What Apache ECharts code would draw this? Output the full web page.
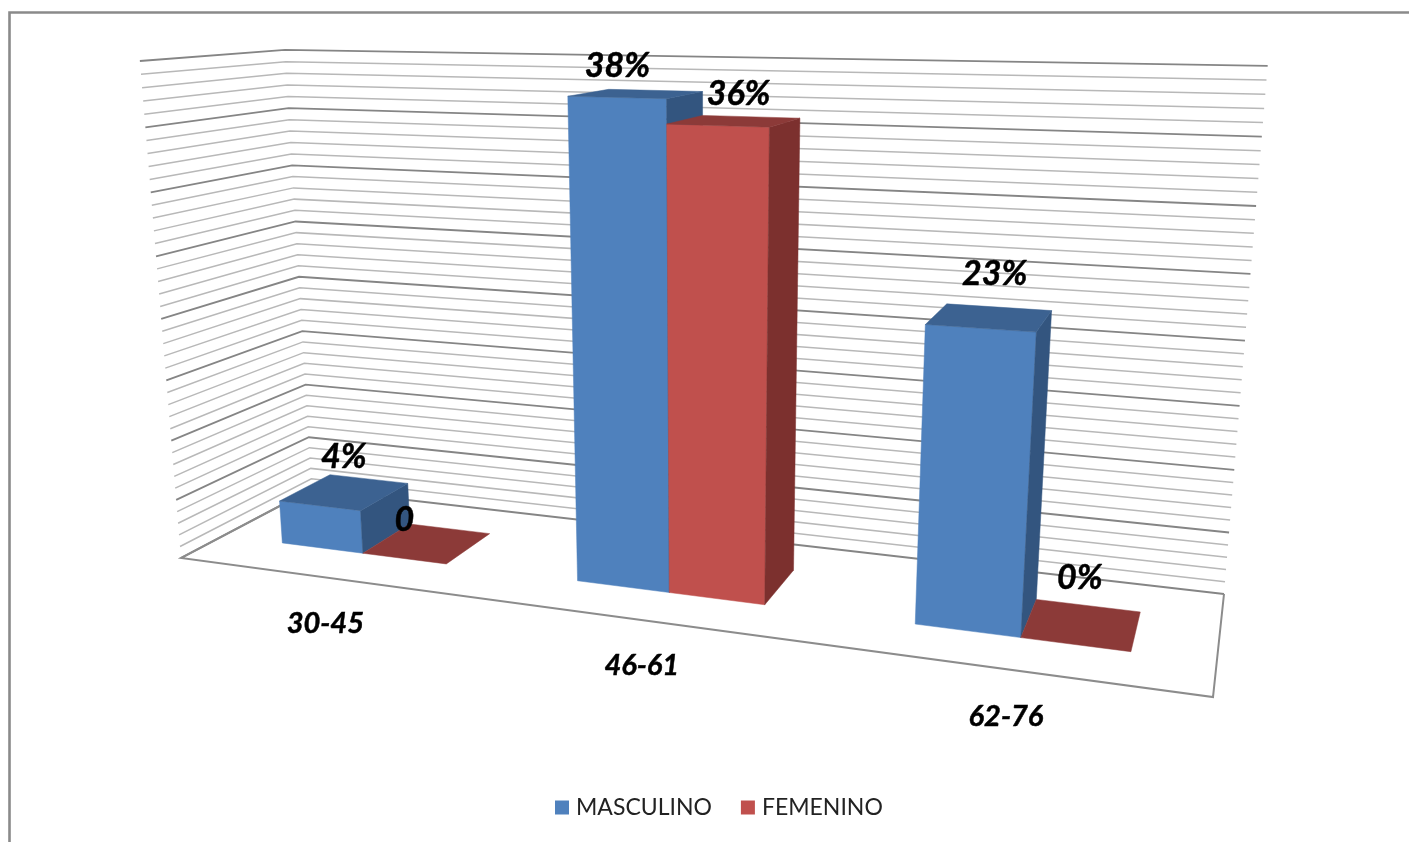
<!DOCTYPE html>
<html><head><meta charset="utf-8">
<style>html,body{margin:0;padding:0;background:#fff}#c{width:1409px;height:842px}</style>
<script src="https://cdn.jsdelivr.net/npm/echarts@6/dist/echarts.min.js"></script>
</head><body><div id="c"></div>
<script>
// ---- data ----
const categories = ['30-45', '46-61', '62-76'];
const masculino = [3.7, 37.7, 22.5];
const femenino = [0, 35.9, 0];
const masculinoLabels = ['4%', '38%', '23%'];
const femeninoLabels = ['0', '36%', '0%'];
const axisTicks = Array.from({length: 41}, (_, i) => i);
const axisMax = 40;

// ---- 3D look: picture of the unit cube (u along categories, v depth, h value) ----
const FLOOR = [[181,558],[1213,697],[1224,594],[312,489]];
const TOPS = [[0,0,136,61],[0,1,289,49],[1,1,1267,67]];
const BAR_SHARE = 1/3.5, BAR_DEPTH = [0.3, 0.7];
const maleLabelShift = [[-1,-35],[-19,-28],[5,-43]];
const femaleLabelShift = [[-23,-23],[4,-27],[-2,-46]];
const catLabelShift = [[1,46],[0,46],[-2,47]];

function buildProjection() {
  const [[x0,y0],[x1,y1],[x2,y2],[x3,y3]] = FLOOR;
  const dx1=x1-x2,dx2=x3-x2,dy1=y1-y2,dy2=y3-y2,sx=x0-x1+x2-x3,sy=y0-y1+y2-y3;
  const det=dx1*dy2-dx2*dy1;
  const g=(sx*dy2-dx2*sy)/det, h=(dx1*sy-sx*dy1)/det;
  const a=x1-x0+g*x1,b=x3-x0+h*x3,d=y1-y0+g*y1,e=y3-y0+h*y3;
  const rows=[],rhs=[];
  TOPS.forEach(([u,v,X,Y])=>{
    const fx=a*u+b*v+x0,fy=d*u+e*v+y0,fz=g*u+h*v+1;
    rows.push([1,0,-X]);rhs.push(X*fz-fx);
    rows.push([0,1,-Y]);rhs.push(Y*fz-fy);
  });
  const N=[[0,0,0,0],[0,0,0,0],[0,0,0,0]];
  rows.forEach((r,k)=>{for(let i=0;i<3;i++){for(let j=0;j<3;j++)N[i][j]+=r[i]*r[j];N[i][3]+=r[i]*rhs[k];}});
  for(let i=0;i<3;i++){
    let p=i;for(let r=i+1;r<3;r++)if(Math.abs(N[r][i])>Math.abs(N[p][i]))p=r;
    [N[i],N[p]]=[N[p],N[i]];
    for(let r=0;r<3;r++){if(r===i)continue;const f=N[r][i]/N[i][i];for(let c=i;c<4;c++)N[r][c]-=f*N[i][c];}
  }
  const c1=N[0][3]/N[0][0],c2=N[1][3]/N[1][1],c3=N[2][3]/N[2][2];
  return (u,v,w)=>{
    const z=g*u+h*v+c3*w+1;
    return [(a*u+b*v+c1*w+x0)/z,(d*u+e*v+c2*w+y0)/z];
  };
}
const project = buildProjection();

const FONT = 'Lato, "Open Sans", sans-serif';
const LABEL_SIZE = 34, CAT_SIZE = 29;
const poly = (pts, fill) => ({type:'polygon', shape:{points:pts}, style:{fill, stroke:fill, lineWidth:0.5}, silent:true});
const txt = (x,y,text,size) => ({type:'text', silent:true, style:{x,y,text,fill:'#000',stroke:'#000',lineWidth:0.5,font:`italic bold ${size}px ${FONT}`,align:'center',verticalAlign:'middle'}});

function barSeries(name, values, slot, labels, shifts, colors) {
  return {
    name, type:'custom', coordinateSystem:'cartesian2d', itemStyle:{color:colors.front},
    data: values.map((v,i)=>[i,v]), encode:{x:0,y:1}, clip:false,
    renderItem(params, api) {
      const cs = params.coordSys;
      const i = api.value(0), val = api.value(1);
      const p = api.coord([i,val]), band = api.size([1,0])[0];
      const w = band*BAR_SHARE;
      const u0 = (p[0]-cs.x + (slot-1)*w)/cs.width, u1 = u0 + w/cs.width;
      const h = (cs.y+cs.height-p[1])/cs.height;
      const [v0,v1] = BAR_DEPTH;
      const P = project;
      const kids = [];
      if (h > 0) {
        kids.push(poly([P(u0,v0,0),P(u1,v0,0),P(u1,v0,h),P(u0,v0,h)],colors.front));
        kids.push(poly([P(u1,v0,0),P(u1,v1,0),P(u1,v1,h),P(u1,v0,h)],colors.side));
      }
      kids.push(poly([P(u0,v0,h),P(u1,v0,h),P(u1,v1,h),P(u0,v1,h)],colors.top));
      const c = P((u0+u1)/2,(v0+v1)/2,h);
      kids.push(txt(c[0]+shifts[i][0],c[1]+shifts[i][1],labels[i],LABEL_SIZE));
      return {type:'group',children:kids};
    }
  };
}

const option = {
  animation:false, backgroundColor:'#fff',
  grid:{left:0,right:0,top:0,bottom:0},
  xAxis:{type:'category',data:categories,show:false},
  yAxis:{type:'value',min:0,max:axisMax,interval:5,show:false},
  legend:{left:550,top:791,icon:'rect',itemWidth:14,itemHeight:14,itemGap:29,selectedMode:false,
    data:['MASCULINO','FEMENINO'],textStyle:{fontFamily:FONT,fontSize:23,color:'#222',padding:[0,0,0,2]}},
  graphic:[{type:'rect',shape:{x:9.5,y:12.5,width:1500,height:900},style:{fill:'none',stroke:'#8a8a8a',lineWidth:2.6},silent:true}],
  series:[
    {type:'custom',name:'walls',silent:true,coordinateSystem:'cartesian2d',data:axisTicks.map(t=>[0,t]),encode:{x:0,y:1},clip:false,
      renderItem(params,api){
        const cs=params.coordSys,t=api.value(1),p=api.coord([0,t]);
        const h=(cs.y+cs.height-p[1])/cs.height,major=t%5===0;
        return {type:'polyline',shape:{points:[project(0,0,h),project(0,1,h),project(1,1,h)]},silent:true,
          style:{fill:'none',stroke:major?'#858585':'#b8b8b8',lineWidth:major?1.8:1.5}};
      }},
    {type:'custom',name:'floor',silent:true,coordinateSystem:'cartesian2d',data:categories.map((c,i)=>[i,0]),encode:{x:0,y:1},clip:false,
      renderItem(params,api){
        const cs=params.coordSys,i=api.value(0),p=api.coord([i,0]);
        const kids=[];
        if(i===0)kids.push({type:'polyline',silent:true,shape:{points:[project(0,1,0),project(0,0,0),project(1,0,0),project(1,1,0)]},
          style:{fill:'none',stroke:'#8c8c8c',lineWidth:2}});
        const f=project((p[0]-cs.x)/cs.width,0,0);
        kids.push(txt(f[0]+catLabelShift[i][0],f[1]+catLabelShift[i][1],categories[i],CAT_SIZE));
        return {type:'group',children:kids};
      }},
    barSeries('MASCULINO',masculino,0,masculinoLabels,maleLabelShift,{front:'#4F81BD',side:'#33557F',top:'#3C6291'}),
    barSeries('FEMENINO',femenino,1,femeninoLabels,femaleLabelShift,{front:'#C0504D',side:'#7C302E',top:'#8C3A38'})
  ]
};
echarts.init(document.getElementById('c'),null,{renderer:'canvas'}).setOption(option);
</script></body></html>
